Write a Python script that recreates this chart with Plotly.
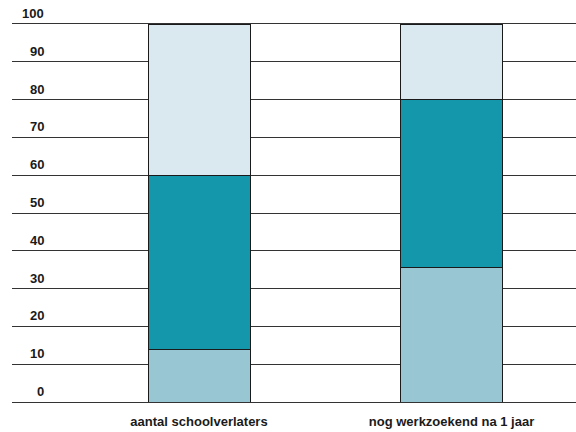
import plotly.graph_objects as go

categories = ["aantal schoolverlaters", "nog werkzoekend na 1 jaar"]
bottom_vals = [14, 35.5]
middle_vals = [46, 44.5]
top_vals = [40, 20]
y_ticks = [0, 10, 20, 30, 40, 50, 60, 70, 80, 90, 100]

colors = ["#99c6d3", "#1497aa", "#d9e9ef"]
FONT = "Liberation Sans Narrow, Arial Narrow, Liberation Sans, Arial, sans-serif"

fig = go.Figure()
for vals, col in zip([bottom_vals, middle_vals, top_vals], colors):
    fig.add_trace(go.Bar(
        x=categories, y=vals, width=0.404,
        marker=dict(color=col, line=dict(color="#1a1a1a", width=1)),
        hoverinfo="skip", showlegend=False,
    ))

for t in y_ticks:
    fig.add_annotation(
        x=0.0603, xref="paper", y=t, yref="y",
        text=f"<b>{t}</b>", showarrow=False,
        xanchor="right", yanchor="bottom", yshift=1,
        font=dict(family=FONT, size=13, color="#1a1a1a"),
    )

fig.update_layout(
    barmode="stack",
    width=576, height=432,
    margin=dict(l=12, r=0, t=24, b=30),
    plot_bgcolor="white", paper_bgcolor="white",
    xaxis=dict(
        range=[-0.7406, 1.493], showgrid=False, zeroline=False,
        showline=True, mirror=True, linecolor="#333333", linewidth=1,
        ticks="outside", ticklen=7, tickcolor="rgba(0,0,0,0)",
        tickfont=dict(family=FONT, size=13, color="#1a1a1a"),
        tickvals=categories,
        ticktext=[f"<b>{c}</b>" for c in categories],
    ),
    yaxis=dict(
        range=[0, 100], tickvals=y_ticks, showticklabels=False,
        showgrid=True, gridcolor="#333333", gridwidth=1,
        zeroline=False, showline=False,
    ),
)

fig.write_html(
    "out.html",
    config={"displayModeBar": False},
    post_script="document.body.style.margin='0';document.body.style.padding='0';",
)
